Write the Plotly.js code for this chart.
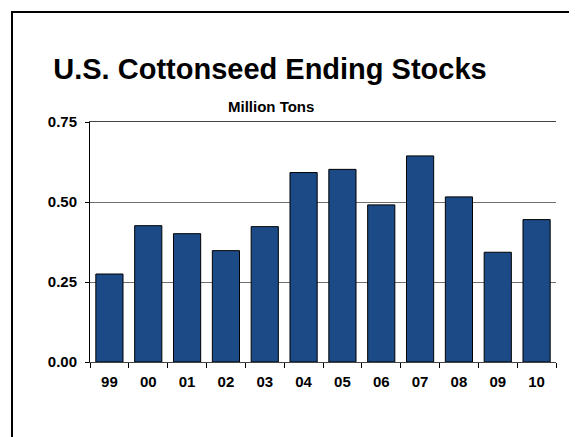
<!DOCTYPE html>
<html>
<head>
<meta charset="utf-8">
<script src="https://cdn.plot.ly/plotly-3.0.1.min.js"></script>
<style>
html,body{margin:0;padding:0;background:#fff;overflow:hidden;width:579px;height:437px;}
#wrap{position:relative;width:579px;height:437px;overflow:hidden;}
#chart{position:absolute;left:0;top:0;width:579px;height:437px;}
#frame{position:absolute;left:11px;top:11px;width:556px;height:424px;border-left:2px solid #000;border-top:2px solid #000;border-right:0;border-bottom:0;pointer-events:none;box-sizing:content-box;}
</style>
</head>
<body>
<div id="wrap"><div id="chart"></div><div id="frame"></div></div>
<script>
const years = ["99","00","01","02","03","04","05","06","07","08","09","10"];
const stocks = [0.275, 0.426, 0.401, 0.348, 0.423, 0.592, 0.602, 0.491, 0.644, 0.516, 0.343, 0.445];
const yTicks = [0, 0.25, 0.5, 0.75];
const yTickText = ["0.00", "0.25", "0.50", "0.75"];

const trace = {
  type: "bar",
  x: years,
  y: stocks,
  marker: {color: "#1B4A86", line: {color: "#000000", width: 1}},
  hoverinfo: "x+y"
};

const layout = {
  width: 579, height: 437,
  margin: {l: 90, r: 23, t: 122, b: 75},
  paper_bgcolor: "rgba(0,0,0,0)", plot_bgcolor: "#ffffff",
  font: {family: "Arial, Liberation Sans, sans-serif", color: "#000"},
  bargap: 0.3,
  showlegend: false,
  title: {
    text: "<b>U.S. Cottonseed Ending Stocks</b>",
    font: {size: 29, family: "Arial, Liberation Sans, sans-serif", color: "#000"},
    x: 270/579, xanchor: "center", xref: "container",
    y: 1 - 69/437, yanchor: "middle", yref: "container"
  },
  annotations: [{
    text: "<b>Million Tons</b>",
    xref: "paper", yref: "paper",
    x: (271-90)/466, y: (362-106)/240,
    xanchor: "center", yanchor: "middle",
    showarrow: false,
    font: {size: 15, color: "#000"}
  }],
  xaxis: {
    type: "category",
    tickson: "boundaries",
    ticks: "outside", ticklen: 5, tickcolor: "#000", tickwidth: 1,
    showline: true, linecolor: "#444", linewidth: 1, mirror: true,
    showgrid: false,
    tickfont: {size: 15, color: "#000", weight: "bold"},
    ticklabelstandoff: 6,
    fixedrange: true
  },
  yaxis: {
    range: [0, 0.75],
    tickvals: yTicks, ticktext: yTickText,
    ticks: "outside", ticklen: 4, tickcolor: "#000", tickwidth: 1,
    showline: true, linecolor: "#000", linewidth: 1,
    showgrid: true, gridcolor: "#707070", gridwidth: 1,
    zeroline: false,
    tickfont: {size: 15, color: "#000", weight: "bold"},
    ticklabelstandoff: 5,
    fixedrange: true
  }
};

Plotly.newPlot("chart", [trace], layout, {displayModeBar: false, staticPlot: true});
</script>
</body>
</html>
